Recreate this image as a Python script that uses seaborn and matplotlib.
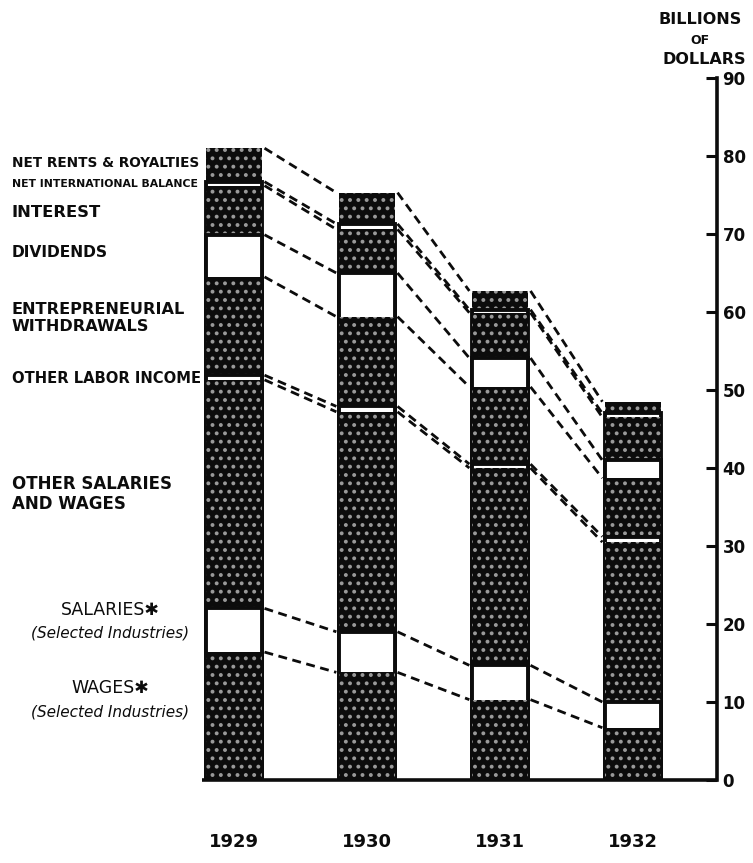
import matplotlib
matplotlib.use("Agg")
import matplotlib.pyplot as plt
import matplotlib.transforms as mtransforms
import numpy as np
import seaborn as sns

sns.set_theme(style="white")
plt.rcParams["font.family"] = ["DejaVu Sans"]
plt.rcParams["hatch.linewidth"] = 1.6
ink = "#0c0c0c"
plt.rcParams["text.color"] = ink
plt.rcParams["xtick.color"] = ink
plt.rcParams["ytick.color"] = ink

years = ["1929", "1930", "1931", "1932"]

# billions of dollars, bottom of the stack first
wages_selected = [16.4, 13.8, 10.3, 6.7]
salaries_selected = [5.6, 5.2, 4.4, 3.3]
other_salaries_wages = [29.3, 28.2, 25.3, 20.5]
other_labor_income = [0.6, 0.7, 0.5, 0.7]
entrepreneurial = [12.6, 11.5, 9.9, 7.5]
dividends = [5.4, 5.6, 3.7, 2.3]
interest = [6.3, 5.6, 5.8, 5.5]
net_international = [0.5, 0.7, 0.4, 0.5]
net_rents = [4.3, 4.0, 2.4, 1.5]

layers = [wages_selected, salaries_selected, other_salaries_wages,
          other_labor_income, entrepreneurial, dividends, interest,
          net_international, net_rents]
shaded = [True, False, True, False, True, False, True, False, True]

y_ticks = [0, 10, 20, 30, 40, 50, 60, 70, 80, 90]

bar_w = 0.42
cum = np.cumsum(np.array(layers), axis=0)

fig = plt.figure(figsize=(7.53, 8.63), dpi=100)
ax = fig.add_axes([0, 83 / 863, 717 / 753, 702 / 863])

# stacked bars: draw the tallest cumulative first, then cover downwards
for k in range(len(layers) - 1, -1, -1):
    if shaded[k]:
        sns.barplot(x=years, y=cum[k], ax=ax, width=bar_w, saturation=1,
                    errorbar=None, color=ink, edgecolor="#9a9a9a",
                    linewidth=0, hatch="..")
    else:
        sns.barplot(x=years, y=cum[k], ax=ax, width=bar_w, saturation=1,
                    errorbar=None, color="white", edgecolor=ink,
                    linewidth=2.8)

# dashed connectors between matching boundaries of neighbouring bars
for k in range(len(layers)):
    for i in range(len(years) - 1):
        ax.plot([i + bar_w / 2 + 0.02, i + 1 - bar_w / 2 - 0.02],
                [cum[k][i], cum[k][i + 1]], color=ink, lw=2.0,
                linestyle=(0, (3.2, 2.0)), zorder=1)

ax.set_xlim(-1.759, 3.632)
ax.set_ylim(0, 90)
ax.set_xlabel("")
ax.set_ylabel("")

for s in ["top", "left", "bottom"]:
    ax.spines[s].set_visible(False)
ax.spines["right"].set_linewidth(2.6)
ax.spines["right"].set_color(ink)
ax.hlines(0, -bar_w / 2 - 0.03, 3.632, color=ink, lw=2.6, clip_on=False)

ax.yaxis.tick_right()
ax.set_yticks(y_ticks)
ax.set_yticklabels([str(v) for v in y_ticks])
ax.tick_params(axis="y", direction="in", length=8, width=2.2, pad=4,
               labelsize=12)
for lab in ax.get_yticklabels():
    lab.set_fontweight("bold")

ax.tick_params(axis="x", length=0, pad=38, labelsize=13)
for lab in ax.get_xticklabels():
    lab.set_fontweight("bold")

# left side labels
trans = mtransforms.blended_transform_factory(ax.transAxes, ax.transData)
lx = 12 / 717
cx = 110 / 717
ax.text(lx, 79.1, "NET RENTS & ROYALTIES", transform=trans, fontsize=9.8,
        fontweight="bold", va="center", ha="left", zorder=0)
ax.text(lx, 76.4, "NET INTERNATIONAL BALANCE", transform=trans, fontsize=7.8,
        fontweight="bold", va="center", ha="left", zorder=0)
ax.text(lx, 72.7, "INTEREST", transform=trans, fontsize=11.8,
        fontweight="bold", va="center", ha="left")
ax.text(lx, 67.6, "DIVIDENDS", transform=trans, fontsize=11.2,
        fontweight="bold", va="center", ha="left")
ax.text(lx, 59.2, "ENTREPRENEURIAL\nWITHDRAWALS", transform=trans,
        fontsize=11.6, fontweight="bold", va="center", ha="left",
        linespacing=1.15)
ax.text(lx, 51.5, "OTHER LABOR INCOME", transform=trans, fontsize=10.6,
        fontweight="bold", va="center", ha="left")
ax.text(lx, 36.7, "OTHER SALARIES\nAND WAGES", transform=trans,
        fontsize=12, fontweight="bold", va="center", ha="left",
        linespacing=1.15)
ax.text(cx, 21.8, "SALARIES\u2731", transform=trans, fontsize=12.5,
        va="center", ha="center")
ax.text(cx, 18.9, "(Selected Industries)", transform=trans, fontsize=11,
        style="italic", va="center", ha="center")
ax.text(cx, 11.8, "WAGES\u2731", transform=trans, fontsize=12.5,
        va="center", ha="center")
ax.text(cx, 8.7, "(Selected Industries)", transform=trans, fontsize=11,
        style="italic", va="center", ha="center")

# axis title
fig.text(700 / 753, 1 - 20 / 863, "BILLIONS", fontsize=11.5, fontweight="bold",
         ha="center", va="center")
fig.text(700 / 753, 1 - 40 / 863, "OF", fontsize=9, fontweight="bold",
         ha="center", va="center")
fig.text(704 / 753, 1 - 59 / 863, "DOLLARS", fontsize=11.5, fontweight="bold",
         ha="center", va="center")

fig.savefig("out.png", dpi=100)
